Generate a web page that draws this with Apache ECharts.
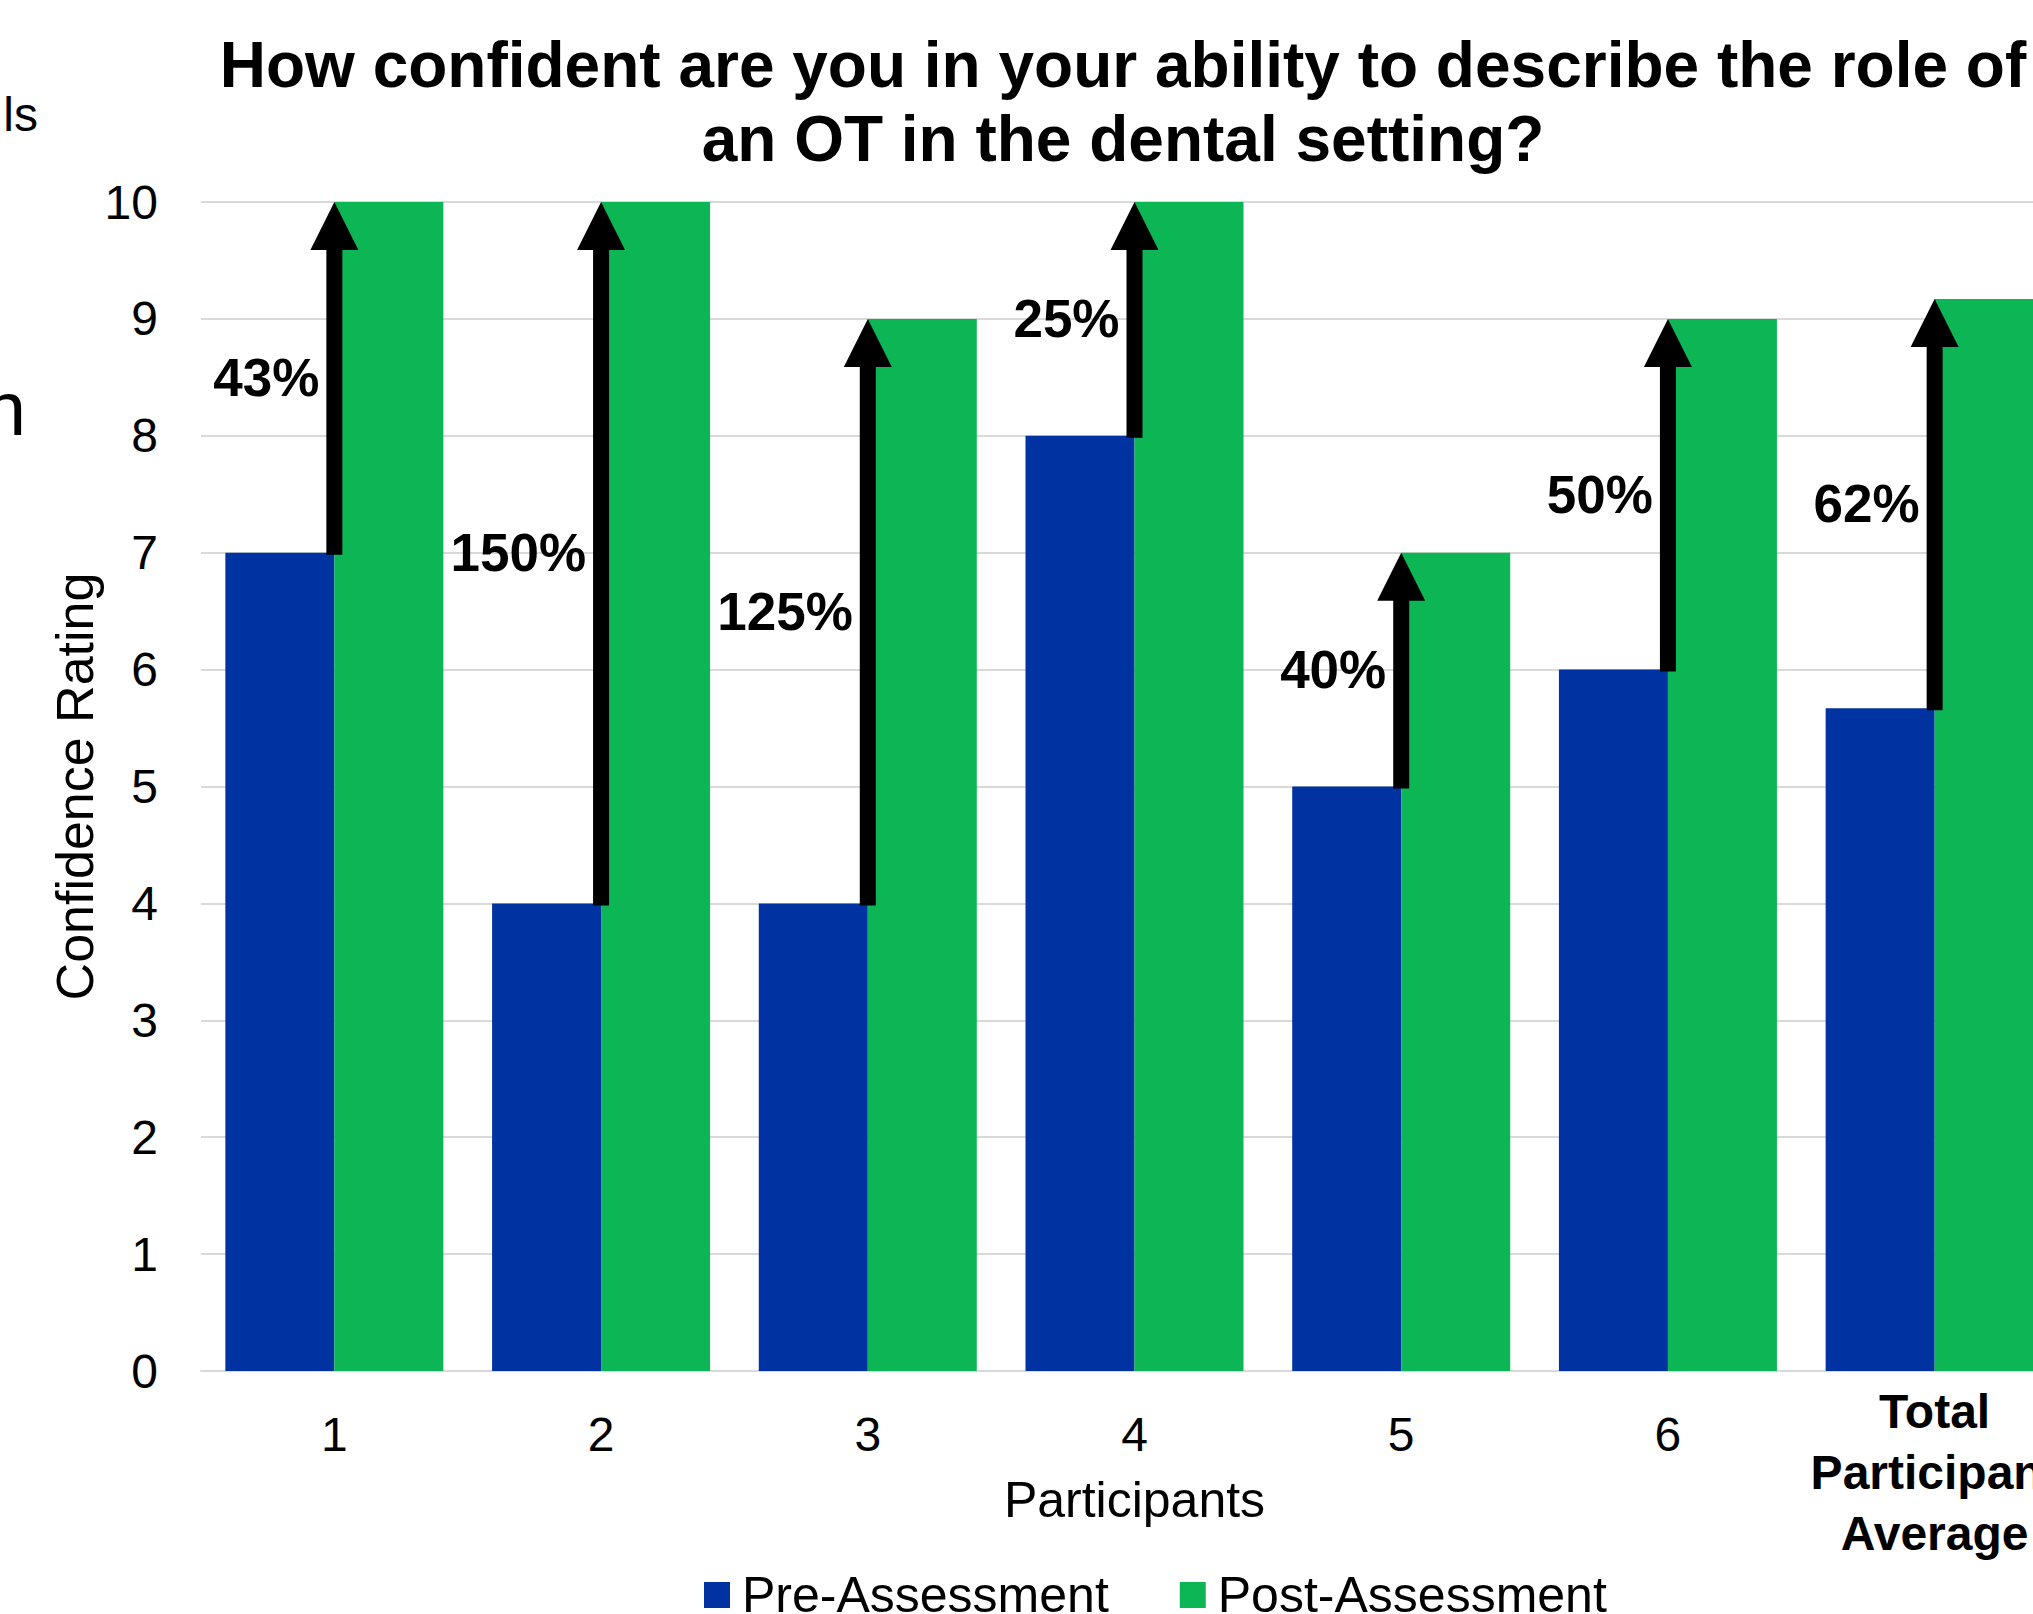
<!DOCTYPE html>
<html>
<head>
<meta charset="utf-8">
<script src="https://cdn.jsdelivr.net/npm/echarts@6/dist/echarts.min.js"></script>
<style>
html,body{margin:0;padding:0;background:#fff;}
#chart{width:2033px;height:1614px;}
</style>
</head>
<body>
<div id="chart"></div>
<script>
// ---- data ----
const categories = ['1', '2', '3', '4', '5', '6', 'Total Participant Average'];
const preAssessment = [7, 4, 4, 8, 5, 6, 5.67];
const postAssessment = [10, 10, 9, 10, 7, 9, 9.17];
const changeLabels = ['43%', '150%', '125%', '25%', '40%', '50%', '62%'];
const yTicks = [0, 1, 2, 3, 4, 5, 6, 7, 8, 9, 10];
const titleText = 'How confident are you in your ability to describe the role of\nan OT in the dental setting?';

const FONT = '"Liberation Sans", Arial, sans-serif';
const BLUE = '#0033A1';
const GREEN = '#0CB655';

const arrowData = categories.map((c, i) => [i, preAssessment[i], postAssessment[i], changeLabels[i]]);

const chart = echarts.init(document.getElementById('chart'), null, {renderer: 'svg'});
chart.setOption({
  animation: false,
  backgroundColor: '#ffffff',
  graphic: [
    {type: 'text', x: 1123, y: 28, style: {text: titleText, align: 'center', verticalAlign: 'top', fontFamily: FONT, fontWeight: 'bold', fontSize: 64, lineHeight: 74, fill: '#000'}},
    {type: 'text', x: 38, y: 114, style: {text: 'ls', align: 'right', verticalAlign: 'middle', fontFamily: FONT, fontSize: 48, fill: '#000'}},
    {type: 'text', x: 26, y: 408, style: {text: 'n', align: 'right', verticalAlign: 'middle', fontFamily: FONT, fontSize: 76, fill: '#000'}}
  ],
  legend: {
    data: ['Pre-Assessment', 'Post-Assessment'],
    left: 704,
    top: 1570,
    padding: 0,
    icon: 'rect',
    itemWidth: 26,
    itemHeight: 26,
    itemGap: 71,
    textStyle: {fontFamily: FONT, fontSize: 50, color: '#000', padding: [0, 0, 0, 7]}
  },
  grid: {left: 201, top: 202, height: 1169, width: 1867, containLabel: false, outerBoundsMode: 'none'},
  xAxis: {
    type: 'category',
    data: categories.map((c, i) => i === categories.length - 1
      ? {value: c, textStyle: {fontWeight: 'bold', lineHeight: 61}}
      : c),
    name: 'Participants',
    nameLocation: 'middle',
    nameGap: 105,
    nameMoveOverlap: false,
    nameTextStyle: {fontFamily: FONT, fontSize: 50, lineHeight: 48, color: '#000'},
    axisLine: {show: true, lineStyle: {color: '#D9D9D9', width: 2}},
    axisTick: {show: false},
    axisLabel: {
      interval: 0,
      margin: 10,
      fontFamily: FONT,
      fontSize: 48,
      lineHeight: 107,
      color: '#000',
      hideOverlap: false,
      formatter: v => v.split(' ').join('\n')
    },
    splitLine: {show: false}
  },
  yAxis: {
    type: 'value',
    min: yTicks[0],
    max: yTicks[yTicks.length - 1],
    interval: 1,
    name: 'Confidence Rating',
    nameLocation: 'middle',
    nameGap: 100,
    nameMoveOverlap: false,
    nameTextStyle: {fontFamily: FONT, fontSize: 52, color: '#000'},
    axisLine: {show: false},
    axisTick: {show: false},
    axisLabel: {margin: 43, fontFamily: FONT, fontSize: 48, color: '#000'},
    splitLine: {show: true, lineStyle: {color: '#D9D9D9', width: 2}}
  },
  series: [
    {
      name: 'Pre-Assessment',
      type: 'bar',
      data: preAssessment,
      barWidth: 109,
      barGap: '0%',
      itemStyle: {color: BLUE}
    },
    {
      name: 'Post-Assessment',
      type: 'bar',
      data: postAssessment,
      barWidth: 109,
      barGap: '0%',
      itemStyle: {color: GREEN}
    },
    {
      name: 'change',
      type: 'custom',
      data: arrowData,
      encode: {x: 0, y: [1, 2]},
      z: 10,
      renderItem: function (params, api) {
        const i = api.value(0);
        const lo = api.value(1);
        const hi = api.value(2);
        const label = changeLabels[i];
        const pLo = api.coord([i, lo]);
        const pHi = api.coord([i, hi]);
        const x = pLo[0];
        const shaftW = 16, headW = 48, headH = 48;
        const shaftTop = pHi[1] + headH - 1;
        const shaftBottom = pLo[1] + 2;
        return {
          type: 'group',
          children: [
            {type: 'rect', shape: {x: x - shaftW / 2, y: shaftTop, width: shaftW, height: shaftBottom - shaftTop}, style: {fill: '#000'}},
            {type: 'polygon', shape: {points: [[x, pHi[1]], [x - headW / 2, pHi[1] + headH], [x + headW / 2, pHi[1] + headH]]}, style: {fill: '#000'}},
            {type: 'text', x: x - 15, y: (pLo[1] + pHi[1]) / 2, style: {text: label, align: 'right', verticalAlign: 'middle', fontFamily: FONT, fontWeight: 'bold', fontSize: 53, fill: '#000'}}
          ]
        };
      }
    }
  ]
});
</script>
</body>
</html>
